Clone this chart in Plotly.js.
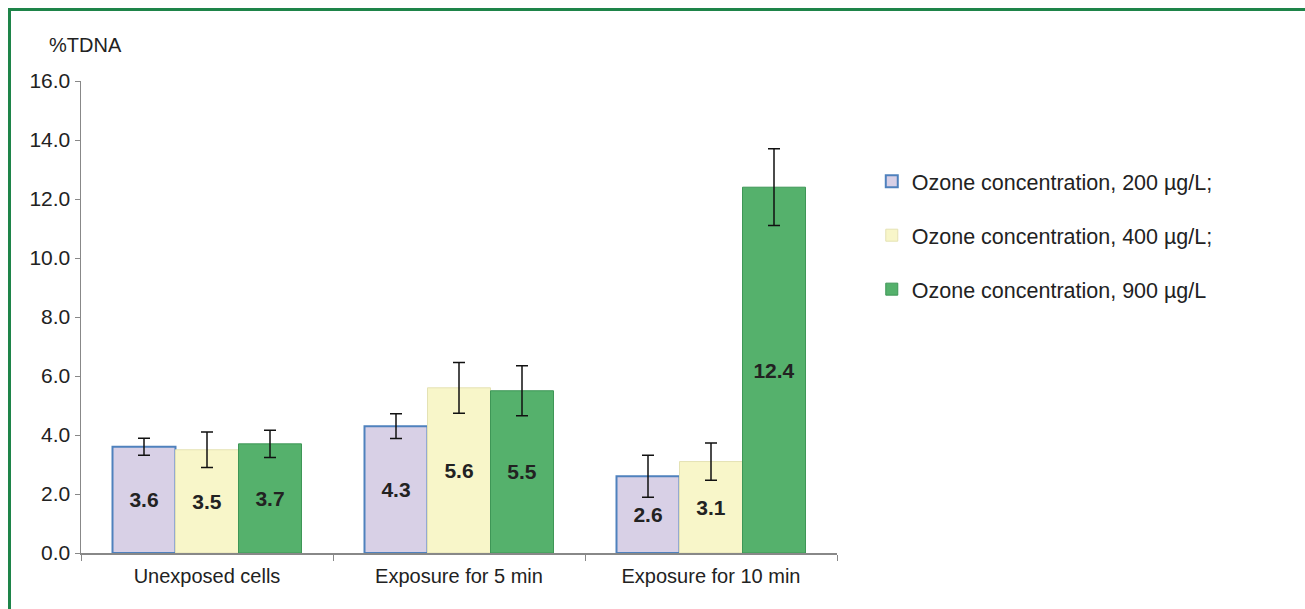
<!DOCTYPE html>
<html><head><meta charset="utf-8">
<script src="https://cdn.plot.ly/plotly-3.0.1.min.js"></script>
<style>
html,body{margin:0;padding:0;background:#fff;overflow:hidden;}
#frame{position:absolute;left:8px;top:8px;width:1400px;height:700px;border-top:3px solid #1e8449;border-left:3px solid #1e8449;box-sizing:border-box;}
#chart{position:absolute;left:0;top:0;width:1305px;height:609px;}
</style></head>
<body><div id="frame"></div><div id="chart"></div>
<script>
const categories = ["Unexposed cells", "Exposure for 5 min", "Exposure for 10 min"];
const seriesNames = ["Ozone concentration, 200 µg/L;", "Ozone concentration, 400 µg/L;", "Ozone concentration, 900 µg/L"];
const values200 = [3.6, 4.3, 2.6];
const values400 = [3.5, 5.6, 3.1];
const values900 = [3.7, 5.5, 12.4];
const err200 = [0.29, 0.42, 0.71];
const err400 = [0.6, 0.86, 0.63];
const err900 = [0.46, 0.85, 1.3];

const fills = ["#d8d0e6", "#f8f6c9", "#55b16c"];
const lines = ["#4f81bd", "#e4e2b4", "#3e9656"];
const vals = [values200, values400, values900];
const errs = [err200, err400, err900];

const traces = vals.map((v, i) => ({
  type: "bar",
  name: seriesNames[i],
  legendgroup: "g" + i,
  x: categories,
  y: v,
  text: v.map(d => d.toFixed(1)),
  textposition: "inside",
  insidetextanchor: "middle",
  textfont: {family: "Liberation Sans, Arial, sans-serif", size: 21, color: "#222", weight: "bold"},
  marker: {color: fills[i], line: {color: lines[i], width: i === 0 ? 2 : 1}},
  error_y: {type: "data", array: errs[i], visible: true, color: "#111", thickness: 1.5, width: 6},
  hoverinfo: "none"
}));

const layout = {
  width: 1305, height: 609,
  margin: {l: 81, r: 468, t: 81, b: 56},
  paper_bgcolor: "rgba(0,0,0,0)",
  plot_bgcolor: "rgba(0,0,0,0)",
  barmode: "group",
  bargap: 0.25,
  bargroupgap: 0,
  font: {family: "Liberation Sans, Arial, sans-serif", size: 20, color: "#222"},
  xaxis: {
    type: "category",
    showline: true, linecolor: "#888", linewidth: 1.5,
    ticks: "outside", tickson: "boundaries", ticklen: 6, tickcolor: "#888",
    ticklabelstandoff: 4,
    tickfont: {size: 20, color: "#222"},
    showgrid: false, zeroline: false
  },
  yaxis: {
    range: [0, 16], dtick: 2, tickformat: ".1f",
    showline: true, linecolor: "#888", linewidth: 1.5,
    ticks: "outside", ticklen: 5, tickcolor: "#888",
    tickfont: {size: 21, color: "#222"},
    showgrid: false, zeroline: false
  },
  legend: {
    x: 1.046, y: 0.831, xanchor: "left", yanchor: "top",
    font: {size: 21.5, color: "#222"},
    traceorder: "grouped",
    tracegroupgap: 23, itemwidth: 30,
    bgcolor: "rgba(0,0,0,0)"
  },
  showlegend: true,
  annotations: [{
    text: "%TDNA", xref: "paper", yref: "paper",
    x: 0.0066, y: 1.077, xanchor: "center", yanchor: "middle",
    showarrow: false, font: {size: 20, color: "#222"}
  }]
};
Plotly.newPlot("chart", traces, layout, {staticPlot: true});
</script></body></html>
